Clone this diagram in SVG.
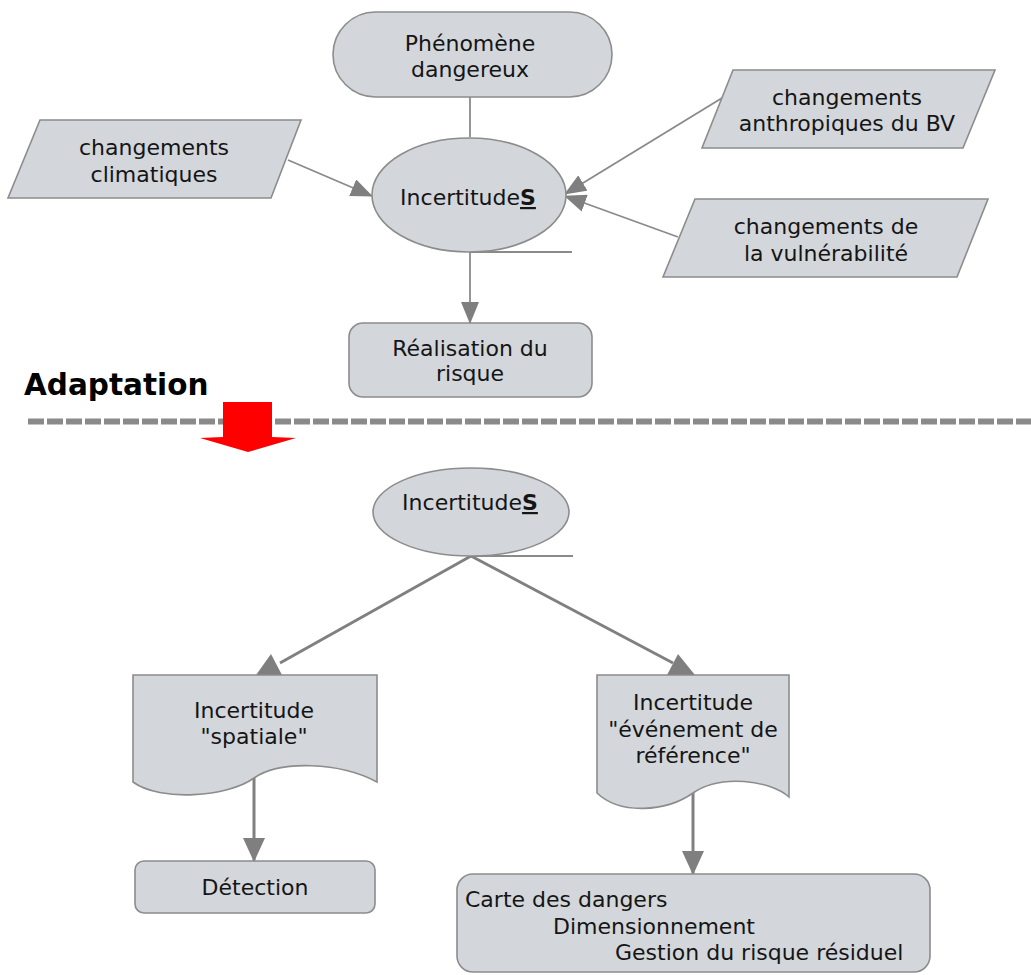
<svg xmlns="http://www.w3.org/2000/svg" width="1031" height="975" viewBox="0 0 1031 975">
<style>
.node{fill:#d3d7db;stroke:#8c8c8c;stroke-width:1.6}
.t{font-family:"DejaVu Sans",Verdana,sans-serif;font-size:22px;fill:#151515}
.c{text-anchor:middle}
.b{font-weight:bold;text-decoration:underline}
.ln{fill:none;stroke:#8a8a8a;stroke-width:1.8}
.lnb{fill:none;stroke:#808080;stroke-width:3}
.ah{fill:#7f7f7f}
</style>
<defs>
<marker id="arr" markerUnits="userSpaceOnUse" viewBox="0 0 22 18" refX="21" refY="9" markerWidth="22" markerHeight="18" orient="auto">
<path d="M0,0 L22,9 L0,18 z" fill="#7f7f7f"/>
</marker>
<marker id="arrb" markerUnits="userSpaceOnUse" viewBox="0 0 24 22" refX="23" refY="11" markerWidth="24" markerHeight="22" orient="auto">
<path d="M0,0 L24,11 L0,22 z" fill="#7f7f7f"/>
</marker>
</defs>
<rect width="1031" height="975" fill="#ffffff"/>

<g id="separator">
<line x1="28" y1="421.5" x2="1031" y2="421.5" stroke="#8a8a8a" stroke-width="6" stroke-dasharray="16 3"/>
<polygon points="223,402 272,402 272,437 296,438 248,452 200,438 223,437" fill="#ff0000"/>
<text x="24" y="395" font-family="DejaVu Sans,Verdana,sans-serif" font-size="29.5" font-weight="bold" fill="#000">Adaptation</text>
</g>

<g id="connectors">
<line class="ln" x1="470" y1="97" x2="470" y2="137"/>
<line class="ln" x1="288" y1="160" x2="372" y2="196" marker-end="url(#arr)"/>
<line class="ln" x1="722" y1="98" x2="565" y2="194" marker-end="url(#arr)"/>
<line class="ln" x1="678" y1="237" x2="565" y2="196" marker-end="url(#arr)"/>
<line class="ln" x1="470" y1="252" x2="572" y2="252"/>
<line class="ln" x1="470" y1="252" x2="470" y2="323" marker-end="url(#arr)"/>
<line class="ln" x1="471" y1="556" x2="573" y2="556"/>
<line class="lnb" x1="471" y1="556" x2="280" y2="663"/>
<polygon class="ah" points="271,654 256,675 282,675"/>
<line class="lnb" x1="471" y1="556" x2="673" y2="663"/>
<polygon class="ah" points="678,654 667,675 695,675"/>
<line class="lnb" x1="254" y1="778" x2="254" y2="861" marker-end="url(#arrb)"/>
<line class="lnb" x1="693" y1="793" x2="693" y2="874" marker-end="url(#arrb)"/>
</g>

<g id="phenomene">
<rect class="node" x="333" y="12" width="279" height="85" rx="42.5"/>
<text class="t c" x="470" y="51">Phénomène</text>
<text class="t c" x="470" y="77">dangereux</text>
</g>

<g id="climatiques">
<polygon class="node" points="40,120 301,120 271,198 8,198"/>
<text class="t c" x="154" y="155">changements</text>
<text class="t c" x="154" y="182">climatiques</text>
</g>

<g id="anthropiques">
<polygon class="node" points="733,70 995,70 963,148 702,148"/>
<text class="t c" x="847" y="105">changements</text>
<text class="t c" x="847" y="131">anthropiques du BV</text>
</g>

<g id="vulnerabilite">
<polygon class="node" points="695,199 988,199 957,277 663,277"/>
<text class="t c" x="826" y="234">changements de</text>
<text class="t c" x="826" y="261">la vulnérabilité</text>
</g>

<g id="incertitudes1">
<ellipse class="node" cx="469" cy="195" rx="97" ry="57"/>
<text class="t c" x="468" y="205">Incertitude<tspan class="b">S</tspan></text>
</g>

<g id="realisation">
<rect class="node" x="349" y="323" width="243" height="74" rx="14"/>
<text class="t c" x="470" y="356">Réalisation du</text>
<text class="t c" x="470" y="381">risque</text>
</g>

<g id="incertitudes2">
<ellipse class="node" cx="471" cy="512" rx="98" ry="44"/>
<text class="t c" x="470" y="510">Incertitude<tspan class="b">S</tspan></text>
</g>

<g id="spatiale">
<path class="node" d="M133,675 H377 V782 C340,762 280,760 254,778 C228,797 160,802 133,782 Z"/>
<text class="t c" x="254" y="718">Incertitude</text>
<text class="t c" x="254" y="744">"spatiale"</text>
</g>

<g id="evenement">
<path class="node" d="M597,675 H789 V797 C770,780 720,774 693,793 C666,812 620,815 597,793 Z"/>
<text class="t c" x="693" y="710">Incertitude</text>
<text class="t c" x="693" y="737">"événement de</text>
<text class="t c" x="693" y="763">référence"</text>
</g>

<g id="detection">
<rect class="node" x="135" y="861" width="240" height="52" rx="9"/>
<text class="t c" x="255" y="895">Détection</text>
</g>

<g id="carte">
<rect class="node" x="457" y="874" width="473" height="98" rx="16"/>
<text class="t" x="465" y="907">Carte des dangers</text>
<text class="t" x="553" y="934">Dimensionnement</text>
<text class="t" x="615" y="960">Gestion du risque résiduel</text>
</g>
</svg>
